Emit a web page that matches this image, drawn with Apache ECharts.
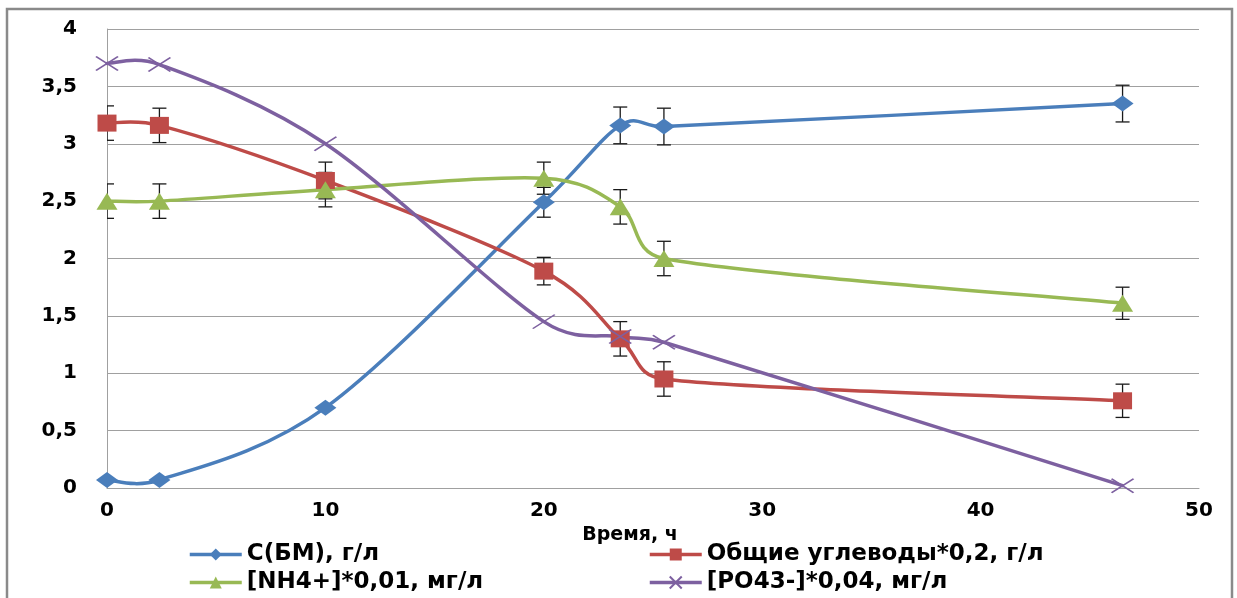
<!DOCTYPE html>
<html>
<head>
<meta charset="utf-8">
<script src="https://cdn.jsdelivr.net/npm/echarts@6/dist/echarts.min.js"></script>
<style>
html,body{margin:0;padding:0;background:#fff;}
#chart{width:1237px;height:598px;}
</style>
</head>
<body>
<div id="chart"></div>
<script>
// ---- data ----
var timeH = [0, 2.4, 10, 20, 23.5, 25.5, 46.5];
var biomass = [0.07, 0.07, 0.70, 2.49, 3.16, 3.15, 3.35];
var biomassErr = [null, null, null, 0.13, 0.16, 0.16, 0.16];
var carbs = [3.18, 3.16, 2.68, 1.89, 1.30, 0.95, 0.76];
var carbsErr = [0.15, 0.15, 0.16, 0.12, 0.15, 0.15, 0.145];
var ammonium = [2.50, 2.50, 2.60, 2.70, 2.45, 2.00, 1.61];
var ammoniumErr = [0.15, 0.15, 0.15, 0.14, 0.15, 0.15, 0.14];
var phosphate = [3.70, 3.69, 3.00, 1.45, 1.32, 1.27, 0.02];
var seriesNames = ['С(БМ), г/л', 'Общие углеводы*0,2, г/л', '[NH4+]*0,01, мг/л', '[PO43-]*0,04, мг/л'];
var xTicks = {min: 0, max: 50, interval: 10};
var yTicks = {min: 0, max: 4, interval: 0.5};
var xAxisTitle = 'Время, ч';

var colors = ['#4a7ebb', '#be4b48', '#98b954', '#7d60a0'];
var FONT = 'DejaVu Sans';
var LINE_W = 3.5;

function pairs(vals) {
  return timeH.map(function (t, i) { return [t, vals[i]]; });
}
function errPairs(vals, errs) {
  var out = [];
  timeH.forEach(function (t, i) {
    if (errs[i] != null) out.push([t, vals[i], errs[i]]);
  });
  return out;
}
function gridClip(params) {
  var cs = params.coordSys;
  return {type: 'rect', shape: {x: cs.x, y: cs.y, width: cs.width, height: cs.height}};
}
function errSeries(vals, errs) {
  return {
    type: 'custom',
    z: 1,
    silent: true,
    data: errPairs(vals, errs),
    renderItem: function (params, api) {
      var x = api.value(0), y = api.value(1), e = api.value(2);
      var top = api.coord([x, y + e]);
      var bot = api.coord([x, y - e]);
      var hw = 7;
      var st = {stroke: '#1a1a1a', lineWidth: 1.3};
      return {
        type: 'group',
        clipPath: gridClip(params),
        children: [
          {type: 'line', shape: {x1: top[0], y1: top[1], x2: bot[0], y2: bot[1]}, style: st},
          {type: 'line', shape: {x1: top[0] - hw, y1: top[1], x2: top[0] + hw, y2: top[1]}, style: st},
          {type: 'line', shape: {x1: bot[0] - hw, y1: bot[1], x2: bot[0] + hw, y2: bot[1]}, style: st}
        ]
      };
    }
  };
}
function dist(a, b) { return Math.sqrt((a[0] - b[0]) * (a[0] - b[0]) + (a[1] - b[1]) * (a[1] - b[1])); }
// Spreadsheet-style smoothed curve (Bezier with limited handles), points from the axis scales
function curveSeries(idx, vals) {
  return {
    type: 'custom',
    z: 2,
    silent: true,
    data: pairs(vals),
    renderItem: function (params, api) {
      if (params.dataIndex !== 0) return null;
      var P = timeH.map(function (t, i) { return api.coord([t, vals[i]]); });
      var n = P.length;
      var d = 'M' + P[0][0] + ',' + P[0][1];
      for (var i = 0; i < n - 1; i++) {
        var p0 = P[Math.max(i - 1, 0)], p1 = P[i], p2 = P[i + 1], p3 = P[Math.min(i + 2, n - 1)];
        var d02 = dist(p0, p2), d12 = dist(p1, p2), d13 = dist(p1, p3);
        var f1 = 1 / 6, f2 = 1 / 6;
        if (!(d02 / 6 < d12 / 2 && d13 / 6 < d12 / 2)) {
          f1 = (d02 / 6 >= d12 / 2 && d02 > 0) ? d12 / d02 / 2 : 1 / 6;
          f2 = (d13 / 6 >= d12 / 2 && d13 > 0) ? d12 / d13 / 2 : 1 / 6;
        }
        var c1x = p1[0] + (p2[0] - p0[0]) * f1, c1y = p1[1] + (p2[1] - p0[1]) * f1;
        var c2x = p2[0] - (p3[0] - p1[0]) * f2, c2y = p2[1] - (p3[1] - p1[1]) * f2;
        d += 'C' + c1x + ',' + c1y + ',' + c2x + ',' + c2y + ',' + p2[0] + ',' + p2[1];
      }
      return {
        type: 'path',
        shape: {pathData: d},
        style: {fill: 'none', stroke: colors[idx], lineWidth: LINE_W, lineJoin: 'round', lineCap: 'round'}
      };
    }
  };
}
function markerSeries(idx, vals, symbol, size, extraItem) {
  var item = {color: colors[idx]};
  if (extraItem) for (var k in extraItem) item[k] = extraItem[k];
  return {
    name: seriesNames[idx],
    type: 'line',
    z: 3,
    data: pairs(vals),
    symbol: symbol,
    symbolSize: size,
    showAllSymbol: true,
    clip: false,
    lineStyle: {color: colors[idx], width: 0, opacity: 0},
    itemStyle: item
  };
}
function legendFor(idx, left, top) {
  return {
    data: [seriesNames[idx]],
    left: left,
    top: top,
    padding: 0,
    itemWidth: 52,
    itemHeight: 15,
    lineStyle: {color: colors[idx], width: LINE_W, opacity: 1},
    textStyle: {fontFamily: FONT, fontWeight: 'bold', fontSize: 23, color: '#000', lineHeight: 23}
  };
}

var chart = echarts.init(document.getElementById('chart'));
chart.setOption({
  animation: false,
  backgroundColor: '#fff',
  color: colors,
  grid: {left: 107, right: 38, top: 29, bottom: 110},
  graphic: [{
    type: 'rect',
    shape: {x: 7, y: 9, width: 1225, height: 640},
    style: {fill: 'none', stroke: '#8a8a8a', lineWidth: 2.5},
    silent: true,
    z: -10
  }],
  legend: [
    legendFor(0, 188, 543),
    legendFor(2, 188, 571),
    legendFor(1, 648, 543),
    legendFor(3, 648, 571)
  ],
  xAxis: {
    type: 'value',
    min: xTicks.min,
    max: xTicks.max,
    interval: xTicks.interval,
    name: xAxisTitle,
    nameLocation: 'middle',
    nameGap: 38,
    nameTextStyle: {fontFamily: FONT, fontWeight: 'bold', fontSize: 19, color: '#000', padding: [0, 46, 0, 0]},
    axisLine: {show: true, lineStyle: {color: '#a0a0a0', width: 1}},
    axisTick: {show: false},
    splitLine: {show: false},
    axisLabel: {fontFamily: FONT, fontWeight: 'bold', fontSize: 20, color: '#000', margin: 13}
  },
  yAxis: {
    type: 'value',
    min: yTicks.min,
    max: yTicks.max,
    interval: yTicks.interval,
    axisLine: {show: true, lineStyle: {color: '#a0a0a0', width: 1}},
    axisTick: {show: false},
    splitLine: {show: true, lineStyle: {color: '#a0a0a0', width: 1}},
    axisLabel: {
      fontFamily: FONT, fontWeight: 'bold', fontSize: 20, color: '#000', margin: 30,
      formatter: function (v) { return String(v).replace('.', ','); }
    }
  },
  series: [
    errSeries(biomass, biomassErr),
    errSeries(carbs, carbsErr),
    errSeries(ammonium, ammoniumErr),
    curveSeries(0, biomass),
    curveSeries(1, carbs),
    curveSeries(2, ammonium),
    curveSeries(3, phosphate),
    markerSeries(0, biomass, 'diamond', [22, 16]),
    markerSeries(1, carbs, 'rect', [19, 17]),
    markerSeries(2, ammonium, 'triangle', [21, 17]),
    markerSeries(3, phosphate, 'path://M0,0L10,10M10,0L0,10', [22, 14],
      {borderColor: colors[3], borderWidth: 1.6})
  ]
});
</script>
</body>
</html>
